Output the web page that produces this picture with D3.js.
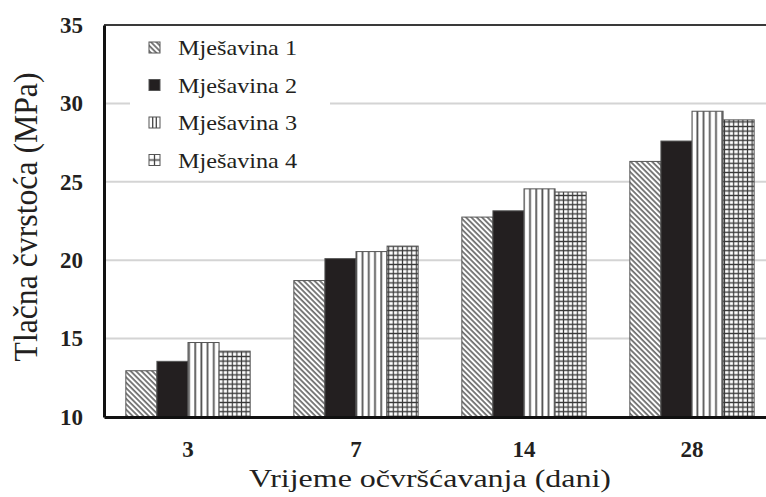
<!DOCTYPE html>
<html><head><meta charset="utf-8">
<script src="https://cdn.jsdelivr.net/npm/d3@7"></script>
<style>body{margin:0;background:#fff}svg{display:block}</style>
</head><body>
<script>
const categories = ["3", "7", "14", "28"];
const seriesNames = ["Mješavina 1", "Mješavina 2", "Mješavina 3", "Mješavina 4"];
const mix1 = [12.95, 18.7, 22.75, 26.3];
const mix2 = [13.55, 20.1, 23.15, 27.6];
const mix3 = [14.75, 20.55, 24.55, 29.5];
const mix4 = [14.2, 20.9, 24.35, 28.95];
const yTicks = [10, 15, 20, 25, 30, 35];
const xTitle = "Vrijeme očvršćavanja (dani)";
const yTitle = "Tlačna čvrstoća (MPa)";

const series = [mix1, mix2, mix3, mix4];
const W = 766, H = 497;
const m = {l: 104, t: 25, b: 417, r: 776};
const FONT = "'Liberation Serif'";

const svg = d3.select("body").append("svg").attr("width", W).attr("height", H);
const defs = svg.append("defs");

// patterns
const p1 = defs.append("pattern").attr("id", "pat1").attr("patternUnits", "userSpaceOnUse")
  .attr("width", 3.8).attr("height", 3.8).attr("patternTransform", "rotate(-45)");
p1.append("rect").attr("width", 3.8).attr("height", 3.8).attr("fill", "#fff");
p1.append("line").attr("x1", 1).attr("x2", 1).attr("y1", 0).attr("y2", 3.8)
  .attr("stroke", "#555").attr("stroke-width", 1.5);

const p3 = defs.append("pattern").attr("id", "pat3").attr("patternUnits", "userSpaceOnUse")
  .attr("width", 6.2).attr("height", 10);
p3.append("rect").attr("width", 6.2).attr("height", 10).attr("fill", "#fff");
p3.append("line").attr("x1", 3).attr("x2", 3).attr("y1", 0).attr("y2", 10)
  .attr("stroke", "#555").attr("stroke-width", 1.8);

const p4 = defs.append("pattern").attr("id", "pat4").attr("patternUnits", "userSpaceOnUse")
  .attr("width", 4.6).attr("height", 4.6);
p4.append("rect").attr("width", 4.6).attr("height", 4.6).attr("fill", "#fff");
p4.append("path").attr("d", "M2.3,0V4.6M0,2.3H4.6").attr("stroke", "#3a3a3a").attr("stroke-width", 1.2);

// legend swatch patterns
const l3 = defs.append("pattern").attr("id", "leg3").attr("patternUnits", "objectBoundingBox")
  .attr("width", 1).attr("height", 1);
l3.append("rect").attr("width", 11).attr("height", 11).attr("fill", "#fff");
l3.append("path").attr("d", "M3.7,0V11M7.3,0V11").attr("stroke", "#444").attr("stroke-width", 1.3);
const l4 = defs.append("pattern").attr("id", "leg4").attr("patternUnits", "objectBoundingBox")
  .attr("width", 1).attr("height", 1);
l4.append("rect").attr("width", 11).attr("height", 11).attr("fill", "#fff");
l4.append("path").attr("d", "M5.5,0V11M0,5.5H11").attr("stroke", "#444").attr("stroke-width", 1.3);

const fills = ["url(#pat1)", "#231f20", "url(#pat3)", "url(#pat4)"];
const legFills = ["url(#pat1)", "#231f20", "url(#leg3)", "url(#leg4)"];

const y = d3.scaleLinear().domain([10, 35]).range([m.b, m.t]);
const x0 = d3.scaleBand().domain(categories).range([m.l, m.r]).paddingInner(0.26).paddingOuter(0.13);
const x1 = d3.scaleBand().domain(d3.range(seriesNames.length)).range([0, x0.bandwidth()]);

// gridlines
svg.append("g").selectAll("line").data(yTicks.filter(t => t > 10 && t < 35)).join("line")
  .attr("x1", m.l).attr("x2", W).attr("y1", d => y(d)).attr("y2", d => y(d))
  .attr("stroke", "#d4d4d4").attr("stroke-width", 2);

// top border
svg.append("line").attr("x1", m.l).attr("x2", W).attr("y1", y(35)).attr("y2", y(35))
  .attr("stroke", "#3a3a3a").attr("stroke-width", 2);

// bars
const g = svg.append("g");
categories.forEach((c, ci) => {
  series.forEach((s, si) => {
    g.append("rect")
      .attr("x", x0(c) + x1(si)).attr("width", x1.bandwidth())
      .attr("y", y(s[ci])).attr("height", y(10) - y(s[ci]))
      .attr("fill", fills[si]).attr("stroke", "#555").attr("stroke-width", 1);
  });
});

// axes
const yAxis = d3.axisLeft(y).tickValues(yTicks).tickSize(0).tickPadding(21);
const ya = svg.append("g").attr("transform", `translate(${m.l},0)`).call(yAxis);
ya.attr("font-family", null);
ya.select(".domain").attr("stroke", "#111").attr("stroke-width", 3);
ya.selectAll("text").style("font-family", FONT).attr("font-weight", "bold")
  .attr("font-size", 23).attr("fill", "#231f20");

const xAxis = d3.axisBottom(x0).tickSize(0).tickPadding(24);
const xa = svg.append("g").attr("transform", `translate(0,${m.b})`).call(xAxis);
xa.attr("font-family", null);
xa.select(".domain").attr("stroke", "#111").attr("stroke-width", 3);
xa.selectAll("text").style("font-family", FONT).attr("font-weight", "bold")
  .attr("font-size", 23).attr("fill", "#231f20");

// legend
const leg = svg.append("g");
leg.append("rect").attr("x", 130).attr("y", 28).attr("width", 200).attr("height", 148).attr("fill", "#fff");
seriesNames.forEach((n, i) => {
  const cy = 48 + i * 37.5;
  leg.append("rect").attr("x", 149).attr("y", cy - 6).attr("width", 11).attr("height", 11)
    .attr("fill", legFills[i]).attr("stroke", "#555").attr("stroke-width", 1);
  leg.append("text").attr("x", 178).attr("y", cy + 7).text(n)
    .style("font-family", FONT).attr("font-size", 22).attr("fill", "#231f20")
    .attr("textLength", 119).attr("lengthAdjust", "spacingAndGlyphs");
});

// titles
svg.append("text").attr("x", 430).attr("y", 487).attr("text-anchor", "middle").text(xTitle)
  .style("font-family", FONT).attr("font-size", 26).attr("fill", "#231f20")
  .attr("textLength", 362).attr("lengthAdjust", "spacingAndGlyphs");
svg.append("text").attr("transform", "translate(37,217) rotate(-90)").attr("text-anchor", "middle").text(yTitle)
  .style("font-family", FONT).attr("font-size", 33).attr("fill", "#231f20")
  .attr("textLength", 289).attr("lengthAdjust", "spacingAndGlyphs");
</script>
</body></html>
